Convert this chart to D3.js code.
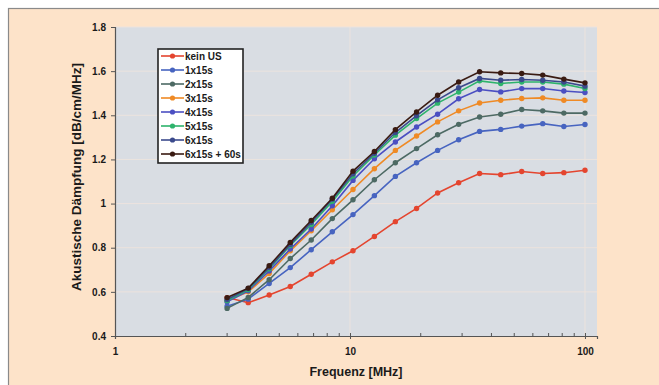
<!DOCTYPE html>
<html>
<head>
<meta charset="utf-8">
<script src="https://cdn.jsdelivr.net/npm/d3@7/dist/d3.min.js"></script>
<style>
  html, body { margin: 0; padding: 0; background: #ffffff; }
  svg { display: block; }
  text { font-family: "Liberation Sans", Arial, sans-serif; font-weight: bold; fill: #1a1a1a; }
</style>
</head>
<body>
<svg id="chart" width="659" height="385"></svg>
<script>
// Measurement frequencies (MHz)
const frequencies = [3, 3.69, 4.53, 5.57, 6.84, 8.41, 10.3, 12.7, 15.6, 19.2, 23.6, 29.0, 35.6, 43.8, 53.8, 66.1, 81.3, 100];

// Attenuation curves (dB/cm/MHz), one per treatment
const keinUS    = [0.574, 0.551, 0.586, 0.624, 0.680, 0.736, 0.786, 0.851, 0.918, 0.978, 1.048, 1.094, 1.136, 1.131, 1.145, 1.136, 1.140, 1.151];
const s1x15     = [0.535, 0.567, 0.638, 0.710, 0.791, 0.872, 0.950, 1.036, 1.123, 1.185, 1.241, 1.289, 1.327, 1.336, 1.351, 1.362, 1.349, 1.358];
const s2x15     = [0.525, 0.575, 0.655, 0.751, 0.835, 0.932, 1.017, 1.108, 1.185, 1.249, 1.312, 1.359, 1.392, 1.405, 1.426, 1.420, 1.410, 1.410];
const s3x15     = [0.560, 0.600, 0.683, 0.786, 0.877, 0.972, 1.064, 1.158, 1.241, 1.306, 1.370, 1.420, 1.456, 1.468, 1.476, 1.479, 1.468, 1.468];
const s4x15     = [0.555, 0.605, 0.695, 0.794, 0.885, 0.990, 1.105, 1.203, 1.279, 1.347, 1.405, 1.475, 1.517, 1.506, 1.521, 1.521, 1.510, 1.503];
const s5x15     = [0.560, 0.610, 0.705, 0.810, 0.905, 1.010, 1.125, 1.220, 1.310, 1.385, 1.455, 1.505, 1.556, 1.544, 1.551, 1.551, 1.541, 1.521];
const s6x15     = [0.565, 0.615, 0.710, 0.815, 0.915, 1.020, 1.135, 1.228, 1.322, 1.398, 1.470, 1.525, 1.567, 1.559, 1.562, 1.559, 1.551, 1.532];
const s6x15p60  = [0.574, 0.617, 0.718, 0.824, 0.923, 1.024, 1.147, 1.236, 1.335, 1.415, 1.491, 1.551, 1.597, 1.592, 1.589, 1.582, 1.564, 1.547];

const seriesNames  = ["kein US", "1x15s", "2x15s", "3x15s", "4x15s", "5x15s", "6x15s", "6x15s + 60s"];
const seriesValues = [keinUS, s1x15, s2x15, s3x15, s4x15, s5x15, s6x15, s6x15p60];
const seriesColors = ["#e4452f", "#4764c0", "#4d6a64", "#ef8a25", "#4b4fc2", "#2eb36c", "#3b4a8c", "#3a1b12"];

// Axis ticks
const xTicks = [1, 10, 100];
const xMinorTicks = [2,3,4,5,6,7,8,9,20,30,40,50,60,70,80,90];
const yTicks = [0.4, 0.6, 0.8, 1.0, 1.2, 1.4, 1.6, 1.8];

const svg = d3.select("#chart");

// Chart frame
svg.append("rect")
  .attr("x", 8.5).attr("y", 8.5)
  .attr("width", 670).attr("height", 400)
  .attr("fill", "#fde3c9")
  .attr("stroke", "#8a8a8a").attr("stroke-width", 1.2);

const plot = { left: 115, right: 597, top: 27, bottom: 336 };

const x = d3.scaleLog().domain([1, 112.5]).range([plot.left, plot.right]);
const y = d3.scaleLinear().domain([0.4, 1.8]).range([plot.bottom, plot.top]);

// Plot area
svg.append("rect")
  .attr("x", plot.left).attr("y", plot.top)
  .attr("width", plot.right - plot.left).attr("height", plot.bottom - plot.top)
  .attr("fill", "#d9dde3");

// Gridlines
svg.append("g").selectAll("line").data(yTicks.slice(1)).join("line")
  .attr("x1", plot.left).attr("x2", plot.right)
  .attr("y1", d => y(d)).attr("y2", d => y(d))
  .attr("stroke", "#ece3de").attr("stroke-width", 1);
svg.append("g").selectAll("line").data(xTicks.slice(1)).join("line")
  .attr("x1", d => x(d)).attr("x2", d => x(d))
  .attr("y1", plot.top).attr("y2", plot.bottom)
  .attr("stroke", "#ece3de").attr("stroke-width", 1);

// Y axis
const yAxis = svg.append("g")
  .attr("transform", `translate(${plot.left},0)`)
  .call(d3.axisLeft(y).tickValues(yTicks).tickSize(4).tickPadding(5)
    .tickFormat(d => d === 1 ? "1" : d3.format(".1f")(d)));
yAxis.selectAll("text").style("font-size", "10px");
yAxis.select(".domain").attr("stroke", "#555").attr("stroke-width", 1.2);
yAxis.selectAll(".tick line").attr("stroke", "#555");

// X axis
const xAxis = svg.append("g")
  .attr("transform", `translate(0,${plot.bottom})`)
  .call(d3.axisBottom(x).tickValues(xTicks).tickSize(3).tickPadding(9)
    .tickFormat(d3.format("d")));
xAxis.selectAll("text").style("font-size", "10px");
xAxis.select(".domain").attr("stroke", "#555").attr("stroke-width", 1.2);
xAxis.selectAll(".tick line").attr("stroke", "#555").attr("y1", -3);
svg.append("g").selectAll("line").data(xMinorTicks).join("line")
  .attr("x1", d => x(d)).attr("x2", d => x(d))
  .attr("y1", plot.bottom - 3).attr("y2", plot.bottom + 1)
  .attr("stroke", "#555").attr("stroke-width", 1);

// Axis titles
svg.append("text")
  .attr("x", (plot.left + plot.right) / 2).attr("y", 376)
  .attr("text-anchor", "middle").style("font-size", "12.5px")
  .text("Frequenz [MHz]");
svg.append("text")
  .attr("transform", "translate(81,177) rotate(-90)")
  .attr("text-anchor", "middle").style("font-size", "13.5px")
  .text("Akustische Dämpfung [dB/cm/MHz]");

// Curves
const line = d3.line().x(d => x(d[0])).y(d => y(d[1]));
seriesValues.forEach((vals, i) => {
  const pts = frequencies.map((f, j) => [f, vals[j]]);
  const g = svg.append("g");
  g.append("path").datum(pts)
    .attr("d", line).attr("fill", "none")
    .attr("stroke", seriesColors[i]).attr("stroke-width", 1.6);
  g.selectAll("circle").data(pts).join("circle")
    .attr("cx", d => x(d[0])).attr("cy", d => y(d[1]))
    .attr("r", 2.7).attr("fill", seriesColors[i]);
});

// Legend
const lg = svg.append("g");
lg.append("rect")
  .attr("x", 158).attr("y", 49).attr("width", 85).attr("height", 114)
  .attr("fill", "#ffffff").attr("stroke", "#222").attr("stroke-width", 1.6);
seriesNames.forEach((name, i) => {
  const yy = 56 + i * 14;
  lg.append("line").attr("x1", 161).attr("x2", 184).attr("y1", yy).attr("y2", yy)
    .attr("stroke", seriesColors[i]).attr("stroke-width", 1.6);
  lg.append("circle").attr("cx", 172.5).attr("cy", yy).attr("r", 2.6)
    .attr("fill", seriesColors[i]);
  lg.append("text").attr("x", 185).attr("y", yy + 3.5)
    .style("font-size", "10px").text(name);
});
</script>
</body>
</html>
